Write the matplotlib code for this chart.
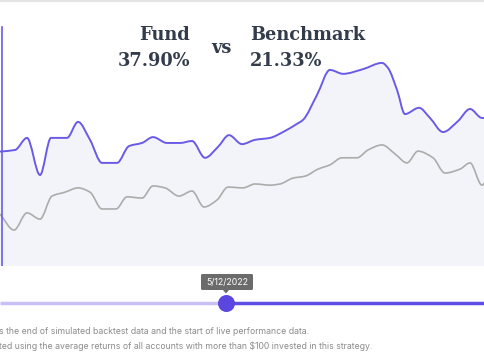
import matplotlib
matplotlib.use("Agg")
import matplotlib.pyplot as plt
from matplotlib.patches import FancyBboxPatch, Polygon, PathPatch
from matplotlib.path import Path
from matplotlib.lines import Line2D
import numpy as np

PURPLE = "#6a5be6"; GRAYLINE = "#acacac"; FILL = "#f3f4fa"; INK = "#333c4b"; NOTE = "#8a8a8a"

# position along the period (0 = start of view, 485 = latest)
fund_t = [0, 15, 27, 40, 51, 67, 78, 90, 102, 117, 129, 142, 153, 167, 180, 192, 205, 218, 229, 242,
          255, 270, 283, 297, 303, 317, 330, 343, 363, 382, 388, 397, 405, 419, 430, 443, 458, 470, 482, 485]
fund = [29.3, 29.7, 32.8, 23.3, 32.8, 32.8, 36.9, 32.3, 26.4, 26.4, 30.7, 31.5, 33.0, 31.5, 31.5, 32.0,
        27.7, 30.5, 33.5, 31.2, 32.3, 32.8, 34.3, 36.4, 37.4, 43.8, 50.2, 49.2, 50.4, 52.0, 50.7, 45.1,
        38.9, 40.5, 37.9, 34.3, 37.1, 40.2, 37.9, 37.9]
bench_t = [0, 14, 27, 40, 52, 65, 78, 90, 102, 116, 127, 142, 153, 165, 179, 192, 204, 217, 228, 243,
           255, 270, 280, 293, 305, 318, 330, 342, 357, 368, 382, 395, 407, 418, 433, 445, 460, 470, 482, 485]
bench = [13.3, 9.2, 13.6, 12.0, 17.9, 18.9, 20.0, 18.9, 14.6, 14.6, 17.7, 17.4, 20.5, 20.0, 17.9, 19.2,
         15.1, 16.9, 20.2, 20.0, 21.0, 20.7, 21.0, 22.5, 23.0, 24.8, 25.9, 27.7, 27.7, 29.7, 31.0, 28.7,
         26.4, 29.4, 27.7, 23.8, 24.8, 26.4, 20.7, 21.33]
fund_total = "37.90%"; bench_total = "21.33%"
slider_pos = 226; slider_label = "5/12/2022"
notes = ["s the end of simulated backtest data and the start of live performance data.",
         "ted using the average returns of all accounts with more than $100 invested in this strategy."]


def smooth_path(x, y):
    # monotone cubic curve through the points, as bezier segments
    x = np.asarray(x, float); y = np.asarray(y, float)
    d = np.diff(y) / np.diff(x)
    m = np.zeros_like(y)
    m[0], m[-1] = d[0], d[-1]
    for i in range(1, len(y) - 1):
        m[i] = 0 if d[i - 1] * d[i] <= 0 else 2 / (1 / d[i - 1] + 1 / d[i])
    verts = [(x[0], y[0])]; codes = [Path.MOVETO]
    for i in range(len(x) - 1):
        h = (x[i + 1] - x[i]) / 3
        verts += [(x[i] + h, y[i] + m[i] * h), (x[i + 1] - h, y[i + 1] - m[i + 1] * h), (x[i + 1], y[i + 1])]
        codes += [Path.CURVE4] * 3
    return verts, codes


W, H = 485, 360
fig = plt.figure(figsize=(W / 100, H / 100), dpi=100, facecolor="white")

# chart area: top of figure down to y=266px
ax = fig.add_axes([0, 1 - 266 / H, 1, 266 / H])
ax.set_xlim(0, 485); ax.set_ylim(0, 68.1)
ax.axis("off")
fv, fc = smooth_path(fund_t, fund)
bv, bc = smooth_path(bench_t, bench)
area = Path(fv + [(fund_t[-1], 0), (fund_t[0], 0), fv[0]], fc + [Path.LINETO, Path.LINETO, Path.CLOSEPOLY])
ax.add_patch(PathPatch(area, fc=FILL, ec="none", zorder=1))
ax.add_patch(PathPatch(Path(bv, bc), fc="none", ec=GRAYLINE, lw=1.2, zorder=2))
ax.add_patch(PathPatch(Path(fv, fc), fc="none", ec=PURPLE, lw=1.4, zorder=3))
ax.plot([2.5, 2.5], [0, 61.2], color=PURPLE, lw=1.2, zorder=4)

# headline
hf = dict(family="DejaVu Serif", fontweight="bold", color=INK, fontsize=12.8, va="center")
fig.text(190 / W, 1 - 35 / H, "Fund", ha="right", **hf)
fig.text(190 / W, 1 - 61 / H, fund_total, ha="right", **hf)
fig.text(221 / W, 1 - 48 / H, "vs", ha="center", **hf)
fig.text(250 / W, 1 - 35 / H, "Benchmark", ha="left", **hf)
fig.text(250 / W, 1 - 61 / H, bench_total, ha="left", **hf)

# top border
fig.add_artist(Line2D([0, 1], [1 - 0.5 / H, 1 - 0.5 / H], color="#e3e3e3", lw=1.5))

# slider
sax = fig.add_axes([0, 0, 1, 1]); sax.set_xlim(0, W); sax.set_ylim(H, 0); sax.axis("off")
sax.plot([0, slider_pos], [302.5, 302.5], color="#c9c1f6", lw=2.5, solid_capstyle="butt")
sax.plot([slider_pos, W], [302.5, 302.5], color="#5e4ee2", lw=2.5, solid_capstyle="butt")
sax.scatter([slider_pos], [302.5], s=150, color="#5b47e0", zorder=5, lw=0)
sax.add_patch(FancyBboxPatch((201, 274), 52, 16, boxstyle="round,pad=0,rounding_size=1.5",
                             fc="#6b6b6b", ec="none", zorder=4))
sax.add_patch(Polygon([[slider_pos - 3, 290], [slider_pos + 3, 290], [slider_pos, 293.5]],
                      closed=True, fc="#6b6b6b", ec="none", zorder=4))
sax.text(227, 282, slider_label, ha="center", va="center", color="white", fontsize=6.3, family="Inter", zorder=6)

for i, t in enumerate(notes):
    sax.text(-1, 332 + i * 14, t, ha="left", va="center", color=NOTE, fontsize=6.25, family="Inter")

plt.savefig("out.png", dpi=100, facecolor="white")
